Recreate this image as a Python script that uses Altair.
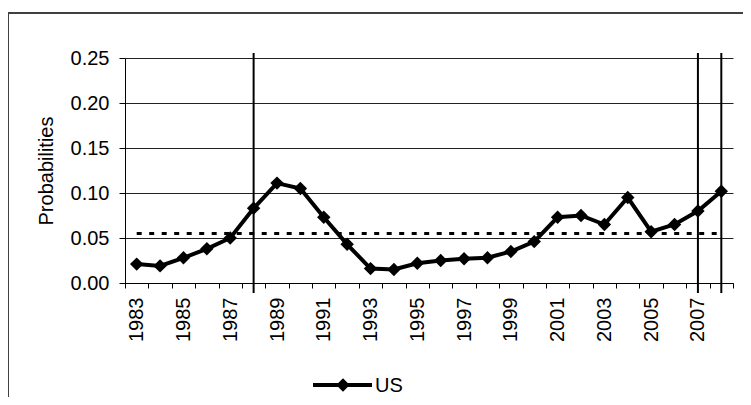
import altair as alt
import pandas as pd

# ---- data ----
years = list(range(1983, 2009))
us = [0.021, 0.019, 0.028, 0.038, 0.050, 0.083, 0.111, 0.105, 0.073, 0.043,
      0.016, 0.015, 0.022, 0.025, 0.027, 0.028, 0.035, 0.046, 0.073, 0.075,
      0.065, 0.095, 0.057, 0.065, 0.080, 0.102]
threshold = 0.055
break_years = [1988, 2007, 2008]
y_ticks = [0.00, 0.05, 0.10, 0.15, 0.20, 0.25]
series_name = "US"
y_title = "Probabilities"

df = pd.DataFrame({"year": years, "value": us, "thr": [threshold] * len(years)})
breaks = pd.DataFrame({"year": break_years})
legend_df = pd.DataFrame({"label": [series_name]})

W, H = 608, 225
FONT = "Liberation Sans"

xscale = alt.Scale(type="band", paddingInner=0, paddingOuter=0, domain=years)
xaxis = alt.Axis(
    title=None, tickBand="extent", labelAngle=270,
    labelExpr="datum.value % 2 == 1 ? datum.value : ''",
    labelOverlap=False, labelFontSize=20, labelFont=FONT, labelColor="black",
    labelPadding=9, tickSize=5, tickColor="black", domainColor="black",
    domainWidth=1, tickWidth=1, grid=False,
)
yscale = alt.Scale(domain=[0, 0.25], nice=False, zero=True)
yaxis = alt.Axis(
    values=y_ticks, format=".2f", title=y_title, titleFont=FONT,
    titleFontSize=20, titleFontWeight="normal", titleColor="black",
    titlePadding=14, grid=True, gridColor="#222222", gridWidth=1,
    tickSize=6, tickColor="black", labelPadding=10, labelFont=FONT,
    labelFontSize=20, labelColor="black", domainColor="black", domainWidth=1,
)

X = alt.X("year:O", scale=xscale, bandPosition=0.5, axis=xaxis)

base = alt.Chart(df)

dashed = base.mark_line(color="black", strokeWidth=3, strokeDash=[5, 7.5]).encode(
    x=X, y=alt.Y("thr:Q", scale=yscale, axis=yaxis)
)
line = base.mark_line(color="black", strokeWidth=4).encode(
    x=X, y=alt.Y("value:Q", scale=yscale, axis=yaxis)
)
points = base.mark_point(shape="diamond", filled=True, size=180, color="black", opacity=1).encode(
    x=X, y=alt.Y("value:Q", scale=yscale, axis=yaxis)
)
rules = alt.Chart(breaks).mark_rule(color="black", strokeWidth=2).encode(
    x=X, y=alt.value(-5), y2=alt.value(235)
)

leg_line = alt.Chart(legend_df).mark_rule(color="black", strokeWidth=4).encode(
    x=alt.value(188), x2=alt.value(247), y=alt.value(327)
)
leg_pt = alt.Chart(legend_df).mark_point(shape="diamond", filled=True, size=180, color="black", opacity=1).encode(
    x=alt.value(218), y=alt.value(327)
)
leg_txt = alt.Chart(legend_df).mark_text(
    align="left", baseline="middle", fontSize=20, font=FONT, color="black"
).encode(text="label:N", x=alt.value(250), y=alt.value(328))

border = alt.Chart(legend_df).mark_rect(
    fill="transparent", stroke="#404040", strokeWidth=2
).encode(x=alt.value(-117), x2=alt.value(700), y=alt.value(-45), y2=alt.value(420))

chart = alt.layer(
    border, dashed, line, points, rules, leg_line, leg_pt, leg_txt
).properties(
    width=W, height=H,
    autosize=alt.AutoSizeParams(type="none"),
    padding={"left": 117, "top": 50, "right": 10, "bottom": 114},
    background="white",
).configure_view(strokeWidth=0)

chart.save("out.html", embed_options={"renderer": "svg", "actions": False})
